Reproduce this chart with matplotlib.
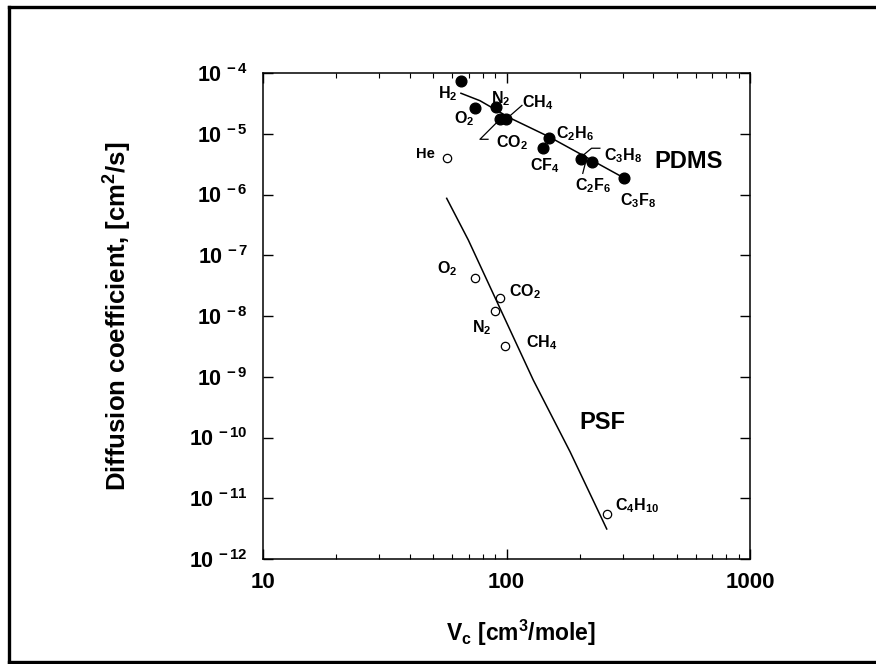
import matplotlib
matplotlib.use("Agg")
from matplotlib import pyplot as plt
from matplotlib.lines import Line2D
from matplotlib.ticker import NullLocator

plt.rcParams['font.family'] = ['Liberation Sans', 'DejaVu Sans']
plt.rcParams['font.weight'] = 'bold'
plt.rcParams['mathtext.fontset'] = 'custom'
plt.rcParams['mathtext.rm'] = 'Liberation Sans:bold'
plt.rcParams['mathtext.it'] = 'Liberation Sans:bold'
plt.rcParams['mathtext.bf'] = 'Liberation Sans:bold'
plt.rcParams['mathtext.sf'] = 'Liberation Sans:bold'

# PDMS (filled circles)
pdms_gas = ['H$_2$', 'O$_2$', 'N$_2$', 'CO$_2$', 'CH$_4$', 'C$_2$H$_6$', 'CF$_4$',
            'C$_3$H$_8$', 'C$_2$F$_6$', 'C$_3$F$_8$']
pdms_vc = [65.0, 74.3, 90.4, 94.0, 99.5, 150, 141, 202, 224, 304]
pdms_d = [7.47e-5, 2.68e-5, 2.79e-5, 1.73e-5, 1.73e-5, 8.6e-6, 5.75e-6, 3.89e-6, 3.47e-6, 1.85e-6]
pdms_fit_vc = [65.0, 77.8, 103.3, 150, 304]
pdms_fit_d = [4.64e-5, 3.5e-5, 1.82e-5, 8.86e-6, 1.87e-6]

# He in PDMS (open circle)
he_vc = [57.2]
he_d = [3.94e-6]

# PSF (open circles)
psf_gas = ['O$_2$', 'CO$_2$', 'N$_2$', 'CH$_4$', 'C$_4$H$_{10}$']
psf_vc = [74.0, 94.0, 89.9, 98.9, 258]
psf_d = [4.17e-8, 1.95e-8, 1.19e-8, 3.24e-9, 5.45e-12]
psf_fit_vc = [56.8, 69.7, 128.8, 182.4, 258]
psf_fit_d = [8.65e-7, 1.78e-7, 8.83e-10, 5.83e-11, 3.12e-12]

xticks = [10, 100, 1000]
xticklabels = ['10', '100', '1000']
yticks = [1e-12, 1e-11, 1e-10, 1e-9, 1e-8, 1e-7, 1e-6, 1e-5, 1e-4]
yticklabels = ['$10^{\\,-12}$', '$10^{\\,-11}$', '$10^{\\,-10}$', '$10^{\\,-9}$', '$10^{\\,-8}$',
               '$10^{\\,-7}$', '$10^{\\,-6}$', '$10^{\\,-5}$', '$10^{\\,-4}$']

# label offsets in points from each marker
pdms_off = [(-9.4, -9.4), (-7.6, -8.1), (3.5, 5.9), (8.5, -17.1), (22.5, 12.1),
            (18.5, 2.7), (1.7, -12.5), (30.0, 1.9), (0.6, -17.5), (10.4, -16.0)]
psf_off = [(-19.6, 6.7), (17.8, 4.5), (-9.6, -11.8), (26.0, 1.9), (21.5, 6)]

# leader lines: marker index, points as offsets in points
leaders = [(3, [(0, 0), (-14.4, -14.4), (-8.6, -14.4)]),
           (4, [(0, 0), (11.5, 10.0)]),
           (7, [(2.2, 2.9), (7.7, 7.5), (13.7, 7.5)]),
           (8, [(-4.8, -1.7), (-6.5, -8.4)])]

fig = plt.figure(figsize=(8.76, 6.64), dpi=100)
ax = fig.add_axes([263 / 876, 105 / 664, 487 / 876, 486 / 664])
ax.set_xscale('log')
ax.set_yscale('log')
ax.set_xlim(10, 1000)
ax.set_ylim(1e-12, 1e-4)

ax.plot(pdms_fit_vc, pdms_fit_d, color='black', lw=1.1)
ax.plot(psf_fit_vc, psf_fit_d, color='black', lw=1.1)
ax.plot(pdms_vc, pdms_d, 'o', color='black', ms=7.7)
ax.plot(he_vc, he_d, 'o', mfc='white', mec='black', mew=0.9, ms=6)
ax.plot(psf_vc, psf_d, 'o', mfc='white', mec='black', mew=0.9, ms=6)

for name, x, y, off in zip(pdms_gas, pdms_vc, pdms_d, pdms_off):
    ax.annotate(name, (x, y), xytext=off, textcoords='offset points',
                ha='center', va='center', fontsize=11.5)
for name, x, y, off in zip(psf_gas, psf_vc, psf_d, psf_off):
    ax.annotate(name, (x, y), xytext=off, textcoords='offset points',
                ha='center', va='center', fontsize=11.5)
ax.annotate('He', (he_vc[0], he_d[0]), xytext=(-15.5, 3), textcoords='offset points',
            ha='center', va='center', fontsize=10.5)

for idx, pts in leaders:
    base = ax.transData.transform((pdms_vc[idx], pdms_d[idx]))
    disp = [(base[0] + px * fig.dpi / 72, base[1] + py * fig.dpi / 72) for px, py in pts]
    dat = ax.transData.inverted().transform(disp)
    ax.plot(dat[:, 0], dat[:, 1], color='black', lw=0.9)

ax.text(0.873, 0.817, 'PDMS', transform=ax.transAxes, ha='center', va='center', fontsize=17)
ax.text(0.696, 0.280, 'PSF', transform=ax.transAxes, ha='center', va='center', fontsize=17)

ax.set_xticks(xticks)
ax.set_xticklabels(xticklabels)
ax.set_yticks(yticks)
ax.set_yticklabels(yticklabels)
ax.yaxis.set_minor_locator(NullLocator())
ax.tick_params(axis='both', which='major', direction='in', length=7, width=1)
ax.tick_params(axis='x', which='major', top=True, labelsize=16, pad=9)
ax.tick_params(axis='y', which='major', right=True, labelsize=15.5, pad=11)
ax.tick_params(axis='x', which='minor', direction='in', length=3.6, width=0.8, top=True)
for s in ax.spines.values():
    s.set_linewidth(1.1)

ax.set_xlabel('V$_c$ [cm$^3$/mole]', fontsize=16.5, fontweight='bold')
ax.set_ylabel('Diffusion coefficient, [cm$^2$/s]', fontsize=18.5, fontweight='bold')
ax.xaxis.set_label_coords(0.53, -0.121)
ax.yaxis.set_label_coords(-0.265, 0.5)

# outer frame
fig.add_artist(Line2D([9 / 876, 9 / 876], [2 / 664, 657 / 664], color='black', lw=2.4))
fig.add_artist(Line2D([9 / 876, 1.0], [657 / 664, 657 / 664], color='black', lw=2.4))
fig.add_artist(Line2D([9 / 876, 1.0], [2 / 664, 2 / 664], color='black', lw=2.4))

fig.savefig('out.png', dpi=100)
